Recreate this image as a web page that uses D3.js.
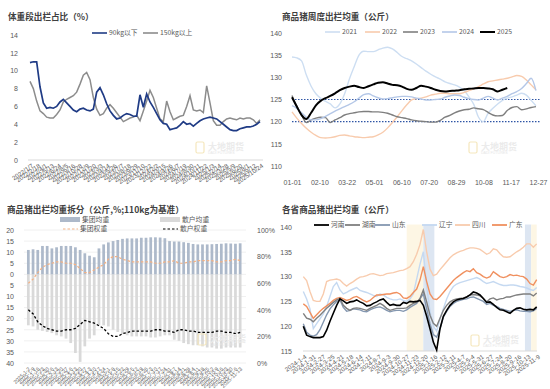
<!DOCTYPE html>
<html>
<head>
<meta charset="utf-8">
<script src="https://cdn.jsdelivr.net/npm/d3@7"></script>
<style>
body{margin:0;background:#fff}
svg text{font-family:"Liberation Sans","Noto Sans CJK SC",sans-serif;fill:#595959;font-size:7px}
svg text.title{font-family:"Noto Sans CJK SC",sans-serif;font-weight:bold;fill:#404040;font-size:8.6px}
svg text.lg{font-family:"Noto Sans CJK SC","Liberation Sans",sans-serif;font-size:6.8px}
</style>
</head>
<body>
<svg id="chart" width="550" height="389"></svg>
<script>
// ---- panel 1: share by weight band (%)
var p1Under90 = [10.9,11.0,11.0,8.2,6.4,5.8,5.9,5.8,6.0,6.5,6.8,6.4,6.0,5.6,5.4,5.7,5.8,5.6,5.5,5.7,
  7.6,8.1,7.3,6.3,5.5,5.0,4.6,4.7,5.0,5.2,5.1,4.9,4.9,7.3,5.9,7.4,6.5,5.9,5.2,4.5,
  4.1,4.0,3.4,3.5,3.6,3.9,4.3,4.0,4.1,3.8,4.1,4.4,4.6,4.7,4.8,4.7,4.6,4.3,4.0,3.7,
  3.4,3.3,3.3,3.5,3.6,3.7,3.7,3.8,4.0,4.3];
var p1Over150 = [8.8,8.0,6.6,5.5,5.2,4.8,4.7,4.7,5.1,5.6,6.5,6.8,7.0,7.2,7.6,8.5,9.5,9.8,9.0,7.0,
  5.7,5.0,5.2,5.8,6.2,5.8,5.3,4.8,4.3,4.5,4.7,4.8,5.0,4.4,5.5,6.6,7.8,7.0,5.8,4.6,
  4.3,6.6,5.4,4.5,4.7,4.9,5.0,6.0,7.2,5.6,5.5,5.6,5.3,8.3,6.4,4.4,3.9,3.9,4.3,4.6,
  4.7,4.6,4.5,4.7,4.6,4.7,4.7,4.5,4.1,4.5];
var p1Ticks = ["2022/1/7","2022/2/18","2022/4/1","2022/5/13","2022/6/24","2022/8/5","2022/9/16","2022/10/28","2022/12/9",
  "2023/1/20","2023/3/3","2023/4/14","2023/5/26","2023/7/7","2023/8/18","2023/9/29","2023/11/10","2023/12/22",
  "2024/2/2","2024/3/15","2024/4/26","2024/6/7","2024/7/19","2024/8/30","2024/10/11","2024/11/22",
  "2025/1/3","2025/2/14","2025/3/28","2025/5/9","2025/6/20","2025/8/1","2025/9/12","2025/10/24"];

// ---- panel 2: weekly average weight by year (kg)
var p2Y2021 = [134.6,134.4,133.7,130.5,128.0,126.3,125.3,124.6,124.0,123.1,124.0,126.3,129.6,132.4,135.0,135.9,135.8,135.8,136.2,136.6,
  136.8,136.4,135.6,134.7,134.2,133.7,133.0,132.2,131.4,130.7,130.1,129.6,129.0,128.6,128.3,127.8,127.0,125.6,123.9,121.0,
  120.0,121.9,123.0,124.0,124.8,125.3,125.6,126.0,126.4,126.0,124.8,123.6];
var p2Y2022 = [122.2,120.8,119.6,118.5,117.6,116.9,116.4,116.3,116.4,116.6,116.9,117.0,116.8,116.6,116.5,116.4,116.5,116.6,117.0,117.6,
  118.6,119.8,121.1,122.5,123.8,124.9,125.2,125.3,125.6,126.0,126.2,126.4,126.4,126.3,126.3,126.3,126.6,127.0,127.4,127.9,
  128.5,129.0,129.2,129.4,129.6,129.8,130.1,130.4,130.2,129.4,128.3,127.2];
var p2Y2023 = [125.9,123.5,121.5,119.8,120.4,120.8,121.0,120.9,119.8,120.4,120.9,121.5,121.8,122.0,122.2,122.3,122.3,122.2,122.2,122.1,
  121.9,121.5,121.1,120.9,120.7,120.4,120.2,120.1,120.0,119.9,119.9,120.3,121.0,121.4,122.0,122.4,122.7,122.8,123.1,122.9,
  122.7,122.1,121.5,121.3,121.4,122.5,123.2,123.4,122.7,122.9,123.2,123.4];
var p2Y2024 = [123.6,123.0,122.0,121.0,120.4,120.4,120.7,121.2,121.8,122.4,122.9,123.4,123.9,124.5,125.3,126.1,126.3,125.8,125.4,125.1,
  125.2,125.4,125.6,125.7,125.7,125.6,125.3,125.1,124.9,124.9,125.0,125.1,125.5,125.8,126.0,125.9,125.5,125.2,125.0,124.9,
  125.3,125.7,125.3,124.9,125.3,125.7,126.3,126.8,127.5,128.6,129.8,127.0];
var p2Y2025 = [125.5,123.4,121.5,120.6,122.0,123.7,124.7,125.3,125.8,126.4,127.1,127.6,127.9,128.1,127.8,127.6,128.0,128.4,128.8,128.9,
  128.6,128.3,128.2,127.9,127.4,127.2,127.6,128.1,127.9,127.6,127.2,126.9,126.8,126.9,127.0,127.1,127.3,127.4,127.5,127.6,
  127.6,127.5,127.3,126.8,127.2,127.6];
var p2Years = ["2021","2022","2023","2024","2025"];
var p2Ticks = ["01-01","02-10","03-22","05-01","06-10","07-20","08-29","10-08","11-17","12-27"];
var p2RefLines = [125, 120];

// ---- panel 3: split of average weight (kg vs 110kg, weights %)
var p3Weeks = ["2025-1-2","2025-1-9","2025-1-16","2025-1-23","2025-1-30","2025-2-6","2025-2-13","2025-2-20","2025-2-27",
  "2025-3-6","2025-3-13","2025-3-20","2025-3-27","2025-4-3","2025-4-10","2025-4-17","2025-4-24","2025-5-1","2025-5-8",
  "2025-5-15","2025-5-22","2025-5-29","2025-6-5","2025-6-12","2025-6-19","2025-6-26","2025-7-3","2025-7-10","2025-7-17",
  "2025-7-24","2025-7-31","2025-8-7","2025-8-14","2025-8-21","2025-8-28","2025-9-4","2025-9-11","2025-9-18","2025-9-25",
  "2025-10-2","2025-10-9","2025-10-16","2025-10-23","2025-10-30","2025-11-6","2025-11-13"];
var p3GroupKg = [11.0,11.3,11.0,12.8,12.8,11.7,12.2,12.8,12.8,12.8,12.2,11.0,9.5,8.4,7.7,11.7,13.5,14.4,15.0,15.5,
  16.0,16.2,16.2,16.2,16.5,16.5,16.7,16.7,16.6,16.3,15.0,14.8,14.8,14.5,14.2,13.7,13.5,13.5,13.5,13.6,
  13.7,13.8,14.0,13.9,13.8,14.0];
var p3RetailKg = [-23,-23.5,-25,-25.5,-26,-26.5,-27.5,-28,-29,-31,-35.5,-39.5,-32.5,-29,-27.5,-23,-23,-23.5,-25,-26,
  -27,-27.5,-28,-28,-28,-28,-28.5,-28.5,-28,-27.5,-27.5,-29.5,-30,-31,-31.5,-32,-32,-32.5,-33,-33,
  -33.5,-33.5,-33,-33,-33,-33];
var p3GroupW = [60,63,68,72,74,75,76,76,75,75,74,71,68,68,70,72,74,78,80,80,78,77,76,76,76,76,76,75,75,76,
  76,77,75,75,76,76,77,77,77,77,76,76,77,77,78,77];
var p3RetailW = [40,37,31,28,26,25,24,24,25,25,26,29,32,31,30,28,26,22,20,20,22,23,24,24,24,24,24,25,25,24,
  24,23,25,25,24,24,23,23,23,23,24,24,23,23,22,23];

// ---- panel 4: average weight by province (kg)
var p4Henan = [120.0,118.2,117.9,117.7,117.7,117.7,117.9,119.2,121.0,122.6,124.2,125.5,125.1,124.6,124.9,125.0,125.3,124.9,124.6,124.1,
  124.2,124.6,124.9,125.3,125.5,124.8,124.2,124.4,124.2,124.2,124.8,124.6,125.0,124.9,125.0,125.2,124.2,122.0,119.5,116.8,
  115.2,119.5,122.0,123.2,124.2,124.9,125.3,125.5,125.6,125.9,126.3,126.9,126.7,126.3,125.6,124.8,124.9,124.4,123.8,123.3,
  123.2,122.9,122.6,123.2,123.6,123.7,123.4,123.3,123.4,123.3,123.9];
var p4Hunan = [122.6,121.6,121.4,120.9,121.6,122.2,122.9,123.6,124.2,124.8,125.3,125.6,124.2,123.6,123.2,123.6,123.7,123.6,123.4,123.2,
  123.6,123.9,124.2,124.6,124.2,123.6,123.2,123.4,123.6,123.6,123.6,123.7,124.2,124.6,124.8,125.6,127.3,124.9,122.2,120.6,
  120.0,121.6,123.2,124.2,124.9,125.3,125.5,125.6,125.7,125.9,126.3,126.4,126.3,126.1,125.6,124.9,125.5,125.7,125.3,125.5,
  125.6,125.9,125.9,126.1,126.3,126.4,126.5,126.5,126.5,126.1,126.7];
var p4Shandong = [120.5,118.8,118.2,118.0,118.3,119.3,120.8,122.3,123.5,124.3,125.0,125.3,123.8,123.0,123.2,123.5,123.4,123.3,123.0,122.9,
  123.3,123.6,123.8,123.9,123.6,123.2,122.9,123.1,123.2,123.2,123.0,123.3,123.8,124.2,124.6,125.5,126.5,123.5,120.5,118.3,
  117.8,119.5,121.8,123.0,124.0,124.6,125.0,125.2,125.4,125.5,125.8,125.9,125.6,125.3,125.0,124.4,124.6,124.2,124.0,123.6,
  123.4,123.2,123.0,123.2,123.3,123.1,123.0,123.0,122.9,123.1,123.6];
var p4Liaoning = [127.0,125.5,123.5,119.5,120.5,121.5,122.5,124.0,126.0,128.0,128.8,127.3,126.5,126.8,127.2,127.5,127.8,127.2,127.0,126.8,
  126.5,126.2,126.0,126.5,126.3,125.8,125.5,125.3,125.3,125.5,125.2,125.0,125.5,126.5,129.5,132.5,135.0,128.0,123.0,120.0,
  119.0,121.5,123.5,125.5,127.0,128.0,128.5,128.8,129.0,129.2,129.4,129.6,129.8,129.5,129.0,128.6,128.8,129.0,128.7,128.4,
  128.2,128.2,128.3,128.3,128.2,128.0,127.9,127.7,127.4,127.2,127.8];
var p4Sichuan = [130.0,129.2,127.0,125.2,125.0,125.0,126.5,129.0,129.3,129.4,129.5,129.3,128.6,128.1,128.6,129.0,129.5,129.9,130.0,130.2,
  130.5,130.6,130.4,130.2,130.3,130.6,130.7,130.8,131.0,131.2,131.3,131.6,132.0,133.0,134.5,136.5,139.5,135.0,131.5,130.2,
  130.5,131.4,132.2,133.0,133.8,134.4,134.8,135.1,135.3,135.6,135.8,135.8,135.7,135.5,135.0,134.5,134.8,135.6,135.4,134.6,
  134.0,133.9,134.0,134.5,135.0,135.4,135.9,136.6,136.6,135.9,136.6];
var p4Guangdong = [124.5,124.0,122.8,121.6,122.3,123.0,123.6,124.1,124.6,125.2,125.6,125.8,125.5,125.2,125.4,125.8,126.0,125.6,125.2,124.9,
  125.2,125.8,126.3,126.3,126.4,126.5,126.5,126.7,126.8,126.5,125.7,125.6,126.0,126.8,127.5,129.3,132.0,129.0,126.5,125.5,
  125.4,126.0,126.8,127.6,128.4,129.2,129.8,130.3,130.8,131.2,131.0,131.6,130.8,130.5,130.0,129.7,130.0,131.0,130.5,130.0,
  129.8,130.0,130.4,130.2,130.3,130.1,130.0,129.5,128.6,128.3,129.4];
var p4Provinces = ["河南","湖南","山东","辽宁","四川","广东"];
var p4Ticks = ["2024-1-4","2024-1-31","2024-2-27","2024-3-25","2024-4-21","2024-5-18","2024-6-14","2024-7-11","2024-8-7",
  "2024-9-3","2024-9-30","2024-10-27","2024-11-23","2024-12-20","2025-1-16","2025-2-12","2025-3-11","2025-4-7","2025-5-4",
  "2025-5-31","2025-6-27","2025-7-24","2025-8-20","2025-9-16","2025-10-13","2025-11-9"];
var p4Bands = [["2024-10-29","2024-12-16","#fdf6e4"],["2024-12-16","2025-1-17","#dde6f2"],
  ["2025-10-6","2025-10-24","#dde6f2"],["2025-10-24","2025-11-9","#fdf6e4"]];

var svg = d3.select("#chart");
svg.append("rect").attr("width",550).attr("height",389).attr("fill","#fff");

function cleanAxis(g){ g.select(".domain").remove(); g.selectAll(".tick line").remove(); return g; }

function rotateLabels(g, deg, size){
  g.selectAll(".tick text").attr("x",0).attr("y",0).attr("dy","0.35em")
    .attr("text-anchor","end").attr("transform","rotate(" + deg + ")").style("font-size",size);
}

function watermark(x, y){
  var w = svg.append("g").attr("transform","translate(" + x + "," + y + ")");
  w.append("rect").attr("width",8).attr("height",11).attr("rx",1.5)
    .attr("fill","none").attr("stroke","#f5e7bd").attr("stroke-width",1.2);
  w.append("text").attr("x",12).attr("y",7.5).text("大地期货")
    .style("font-size","9px").style("font-weight","bold").style("fill","#ebebeb")
    .style("font-family","'Noto Sans CJK SC',sans-serif");
  w.append("text").attr("x",12).attr("y",12).text("DADI FUTURES")
    .style("font-size","3.6px").style("fill","#e6e6e6");
}

function lineLegend(g, items, y){
  items.forEach(function(it){
    g.append("line").attr("x1",it.x).attr("x2",it.x+15).attr("y1",y).attr("y2",y)
      .attr("stroke",it.color).attr("stroke-width",it.w||1.6).attr("stroke-dasharray",it.dash||null);
    g.append("text").attr("class","lg").attr("x",it.x+17).attr("y",y).attr("dy","0.35em").text(it.name);
  });
}

// ================= panel 1
(function(){
  var g = svg.append("g");
  var start = new Date(2022,0,7), end = new Date(2025,9,24);
  var parse = d3.timeParse("%Y/%m/%d");
  var dates = p1Under90.map(function(d,i){ return new Date(+start + i*(end-start)/(p1Under90.length-1)); });
  var x = d3.scaleTime().domain([start,end]).range([30,260]);
  var y = d3.scaleLinear().domain([0,14]).range([160,35]);

  g.append("text").attr("class","title").attr("x",8).attr("y",20).text("体重段出栏占比（%）");
  cleanAxis(g.append("g").attr("transform","translate(25,0)")
    .call(d3.axisLeft(y).tickValues(d3.range(0,15,2)).tickPadding(1)));
  g.append("line").attr("x1",28).attr("x2",263).attr("y1",y(0)).attr("y2",y(0)).attr("stroke","#d9d9d9");
  var xa = g.append("g").attr("transform","translate(2,165)")
    .call(d3.axisBottom(x).tickValues(p1Ticks.map(parse)).tickFormat(d3.timeFormat("%Y/%-m/%-d")));
  cleanAxis(xa); rotateLabels(xa, -35, "6.2px");

  var line = d3.line().x(function(d,i){ return x(dates[i]); }).y(function(d){ return y(d); });
  g.append("path").datum(p1Over150).attr("d",line).attr("fill","none").attr("stroke","#8c8c8c").attr("stroke-width",1.5);
  g.append("path").datum(p1Under90).attr("d",line).attr("fill","none").attr("stroke","#1f3b85").attr("stroke-width",1.7);

  lineLegend(g, [{x:92,name:"90kg以下",color:"#1f3b85"},{x:143,name:"150kg以上",color:"#8c8c8c"}], 33);
})();

// ================= panel 2
(function(){
  var g = svg.append("g");
  var x = d3.scaleLinear().domain([0,360]).range([292,538]);
  var y = d3.scaleLinear().domain([110,140]).range([166,33]);
  var colors = ["#cddef2","#f8cbad","#7f7f7f","#b4c7e7","#000000"];
  var series = [p2Y2021,p2Y2022,p2Y2023,p2Y2024,p2Y2025];

  g.append("text").attr("class","title").attr("x",282).attr("y",20).text("商品猪周度出栏均重（公斤）");
  cleanAxis(g.append("g").attr("transform","translate(289,0)")
    .call(d3.axisLeft(y).tickValues(d3.range(110,141,5)).tickPadding(1)));
  cleanAxis(g.append("g").attr("transform","translate(0,171)")
    .call(d3.axisBottom(x).tickValues(d3.range(0,361,40)).tickFormat(function(d,i){ return p2Ticks[i]; })));

  p2RefLines.forEach(function(v){
    g.append("line").attr("x1",292).attr("x2",540).attr("y1",y(v)).attr("y2",y(v))
      .attr("stroke","#2e55a5").attr("stroke-width",1.2).attr("stroke-dasharray","1.5,1.5");
  });

  var line = d3.line().curve(d3.curveMonotoneX).x(function(d,i){ return x(i*7); }).y(function(d){ return y(d); });
  series.forEach(function(s,k){
    g.append("path").datum(s).attr("d",line).attr("fill","none")
      .attr("stroke",colors[k]).attr("stroke-width",k===4?2:1.4);
  });

  var lx = [325,365,403,442,480];
  lineLegend(g, p2Years.map(function(n,i){ return {x:lx[i],name:n,color:colors[i],w:i===4?2:1.6}; }), 32);
})();

// ================= panel 3
(function(){
  var g = svg.append("g");
  var x = d3.scaleBand().domain(p3Weeks).range([25,243.5]).padding(0.42);
  var y = d3.scaleLinear().domain([-40,20]).range([363,230]);
  var yr = d3.scaleLinear().domain([0,100]).range([363,230]);

  g.append("text").attr("class","title").attr("x",7).attr("y",213).text("商品猪出栏均重拆分（公斤,%;110kg为基准）");

  g.append("g").selectAll("line").data(d3.range(-40,21,5)).join("line")
    .attr("x1",24).attr("x2",246).attr("y1",function(d){ return y(d); }).attr("y2",function(d){ return y(d); })
    .attr("stroke","#f0f0f0");
  cleanAxis(g.append("g").attr("transform","translate(21,0)")
    .call(d3.axisLeft(y).tickValues(d3.range(-40,21,5)).tickFormat(function(d){ return Math.abs(d); }).tickPadding(1)));
  cleanAxis(g.append("g").attr("transform","translate(250,0)")
    .call(d3.axisRight(yr).tickValues(d3.range(0,101,20)).tickFormat(function(d){ return d + "%"; }).tickPadding(1)));
  var xa = g.append("g").attr("transform","translate(1,368)").call(d3.axisBottom(x));
  cleanAxis(xa); rotateLabels(xa, -45, "5.3px");

  g.append("g").selectAll("rect").data(p3RetailKg).join("rect")
    .attr("x",function(d,i){ return x(p3Weeks[i]); }).attr("width",x.bandwidth())
    .attr("y",y(0)).attr("height",function(d){ return y(d)-y(0); }).attr("fill","#d9d9d9");
  g.append("g").selectAll("rect").data(p3GroupKg).join("rect")
    .attr("x",function(d,i){ return x(p3Weeks[i]); }).attr("width",x.bandwidth())
    .attr("y",function(d){ return y(d); }).attr("height",function(d){ return y(0)-y(d); }).attr("fill","#adb9ca");

  var line = d3.line().x(function(d,i){ return x(p3Weeks[i]) + x.bandwidth()/2; }).y(function(d){ return yr(d); });
  g.append("path").datum(p3GroupW).attr("d",line).attr("fill","none")
    .attr("stroke","#f4b183").attr("stroke-width",1.2).attr("stroke-dasharray","2.5,2");
  g.append("path").datum(p3RetailW).attr("d",line).attr("fill","none")
    .attr("stroke","#000").attr("stroke-width",1.3).attr("stroke-dasharray","2.5,2");

  // legend
  g.append("rect").attr("x",60).attr("y",217).attr("width",20).attr("height",5).attr("fill","#adb9ca");
  g.append("text").attr("class","lg").attr("x",82).attr("y",220).attr("dy","0.35em").text("集团均重");
  g.append("rect").attr("x",160).attr("y",217).attr("width",20).attr("height",5).attr("fill","#d9d9d9");
  g.append("text").attr("class","lg").attr("x",182).attr("y",220).attr("dy","0.35em").text("散户均重");
  lineLegend(g, [{x:63,name:"集团权重",color:"#f4b183",dash:"2.5,2",w:1.2},
                 {x:163,name:"散户权重",color:"#000",dash:"2.5,2",w:1.2}], 229);
})();

// ================= panel 4
(function(){
  var g = svg.append("g");
  var parse = d3.timeParse("%Y-%m-%d");
  var start = parse("2024-1-4"), end = parse("2025-11-9");
  var n = p4Henan.length;
  var dates = p4Henan.map(function(d,i){ return new Date(+start + i*(end-start)/(n-1)); });
  var x = d3.scaleTime().domain([start,end]).range([303.3,536.7]);
  var y = d3.scaleLinear().domain([115,140]).range([351,227]);
  var colors = ["#000000","#7f7f7f","#8497b0","#c5d9f1","#f8cbad","#f0905f"];
  var series = [p4Henan,p4Hunan,p4Shandong,p4Liaoning,p4Sichuan,p4Guangdong];

  g.append("text").attr("class","title").attr("x",282).attr("y",213).text("各省商品猪出栏均重（公斤）");

  g.append("g").selectAll("rect").data(p4Bands).join("rect")
    .attr("x",function(d){ return x(parse(d[0])); })
    .attr("width",function(d){ return x(parse(d[1])) - x(parse(d[0])); })
    .attr("y",y(140.5)).attr("height",y(115)-y(140.5)).attr("fill",function(d){ return d[2]; });

  g.append("line").attr("x1",303).attr("x2",537).attr("y1",y(115)).attr("y2",y(115)).attr("stroke","#d9d9d9");
  cleanAxis(g.append("g").attr("transform","translate(299,0)")
    .call(d3.axisLeft(y).tickValues(d3.range(115,141,5)).tickPadding(1)));
  var xa = g.append("g").attr("transform","translate(2,356)")
    .call(d3.axisBottom(x).tickValues(p4Ticks.map(parse)).tickFormat(d3.timeFormat("%Y-%-m-%-d")));
  cleanAxis(xa); rotateLabels(xa, -35, "6.2px");

  var line = d3.line().x(function(d,i){ return x(dates[i]); }).y(function(d){ return y(d); });
  [4,3,5,2,1,0].forEach(function(k){
    g.append("path").datum(series[k]).attr("d",line).attr("fill","none")
      .attr("stroke",colors[k]).attr("stroke-width",k===0?1.6:1.4);
  });

  var lx = [314,345,375,422,455,492];
  lineLegend(g, p4Provinces.map(function(p,i){ return {x:lx[i],name:p,color:colors[i],w:1.8}; }), 225);
})();

watermark(196,142);
watermark(469,142);
watermark(198,334);
watermark(471,335);
</script>
</body>
</html>
